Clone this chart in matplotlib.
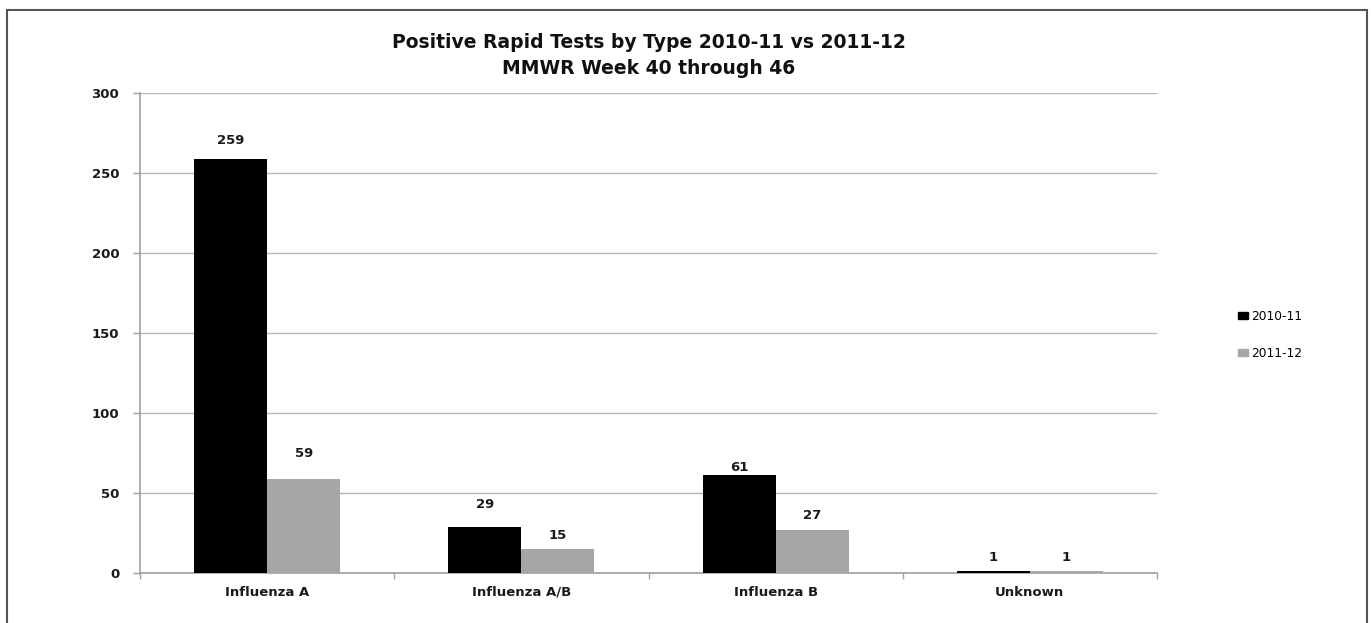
import matplotlib
matplotlib.use("Agg")
import matplotlib.pyplot as plt
import numpy as np
from matplotlib.patches import Rectangle, Patch

categories = ["Influenza A", "Influenza A/B", "Influenza B", "Unknown"]
season_labels = ["2010-11", "2011-12"]
values_2010_11 = [259, 29, 61, 1]
values_2011_12 = [59, 15, 27, 1]
y_ticks = [0, 50, 100, 150, 200, 250, 300]

title = "Positive Rapid Tests by Type 2010-11 vs 2011-12\nMMWR Week 40 through 46"

# distance (points) from each bar top to the centre of its value label
label_gap_2010_11 = [13, 16, 6, 10]
label_gap_2011_12 = [18, 9.5, 10, 10]

W, H, DPI = 1371, 623, 100
fig = plt.figure(figsize=(W / DPI, H / DPI), dpi=DPI)
fig.patch.set_facecolor("white")

FONT = "DejaVu Sans"
AXIS_GRAY = "#a0a0a0"
GRID_GRAY = "#b4b4b4"
TEXT = "#1a1a1a"

ax = fig.add_axes([140 / W, 1 - 573 / H, (1157 - 140) / W, (573 - 93) / H])

x = np.arange(len(categories))
bw = 0.2875
bars1 = ax.bar(x - bw / 2, values_2010_11, bw, color="#000000", label=season_labels[0], zorder=3)
bars2 = ax.bar(x + bw / 2, values_2011_12, bw, color="#a6a6a6", label=season_labels[1], zorder=3)

ax.set_xlim(-0.5, len(categories) - 0.5)
ax.set_ylim(0, 300)
ax.set_yticks(y_ticks)
ax.set_yticklabels([str(v) for v in y_ticks], fontname=FONT, fontweight="bold",
                   fontsize=9.5, color=TEXT)
ax.yaxis.grid(True, color=GRID_GRAY, linewidth=1.0, zorder=0)
ax.set_axisbelow(True)

# category labels at centers, tick marks at category boundaries
ax.set_xticks(x)
ax.set_xticklabels(categories, fontname=FONT, fontweight="bold", fontsize=9.5, color=TEXT)
ax.tick_params(axis="x", which="major", length=0, pad=9)
ax.set_xticks(np.arange(-0.5, len(categories) + 0.5, 1), minor=True)
ax.tick_params(axis="x", which="minor", length=4, color=AXIS_GRAY, width=1)
ax.tick_params(axis="y", length=5, color=AXIS_GRAY, width=1, pad=10)

for side in ("top", "right"):
    ax.spines[side].set_visible(False)
for side in ("left", "bottom"):
    ax.spines[side].set_color(AXIS_GRAY)
    ax.spines[side].set_linewidth(1.2)

for bars, vals, gaps in ((bars1, values_2010_11, label_gap_2010_11),
                         (bars2, values_2011_12, label_gap_2011_12)):
    for b, v, g in zip(bars, vals, gaps):
        ax.annotate(str(v), (b.get_x() + b.get_width() / 2, v),
                    xytext=(0, g), textcoords="offset points",
                    ha="center", va="center", fontname=FONT, fontweight="bold",
                    fontsize=9.5, color=TEXT)

fig.text(648.5 / W, 1 - 55.5 / H, title, ha="center", va="center", fontname=FONT,
         fontweight="bold", fontsize=13.5, linespacing=1.45, color="#111111")

# legend on the right, no frame
handles = [Patch(facecolor=c, edgecolor=c) for c in ("#000000", "#a6a6a6")]
fig.legend(handles, season_labels, loc="center left",
           bbox_to_anchor=(1238 / W, 1 - 335 / H), frameon=False,
           prop={"family": FONT, "size": 8.8}, handlelength=0.8, handleheight=0.55,
           handletextpad=0.3, labelspacing=1.95, borderpad=0, borderaxespad=0)

# outer chart border
fig.add_artist(Rectangle((7 / W, -0.05), (1367 - 7) / W, 1.05 - 10 / H,
                         transform=fig.transFigure, fill=False,
                         edgecolor="#555555", linewidth=1.5))

fig.savefig("out.png", dpi=DPI, facecolor="white")
